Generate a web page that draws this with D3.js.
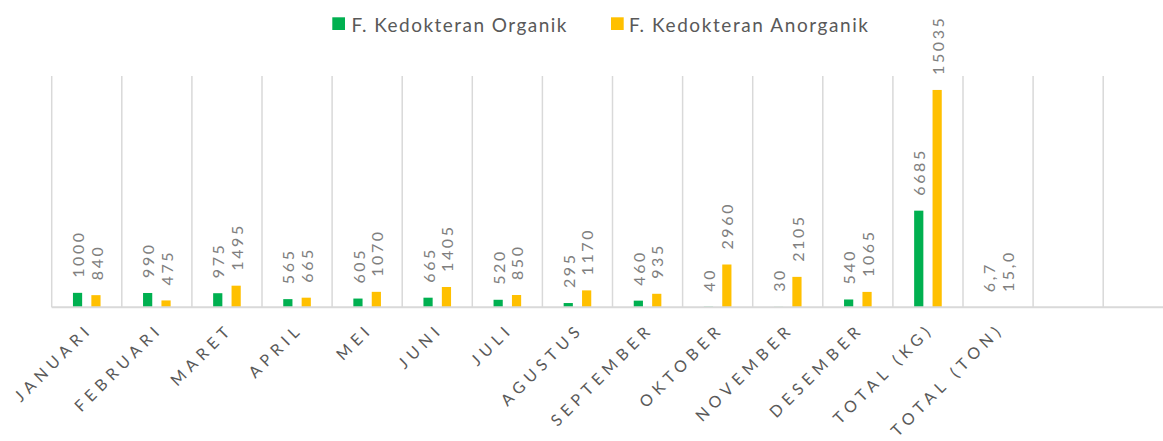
<!DOCTYPE html>
<html>
<head>
<meta charset="utf-8">
<script src="https://cdn.jsdelivr.net/npm/d3@7"></script>
<style>
  body { margin: 0; background: #fff; }
  svg { display: block; overflow: hidden; }
</style>
</head>
<body>
<script>
// data
const categories = ["JANUARI", "FEBRUARI", "MARET", "APRIL", "MEI", "JUNI", "JULI", "AGUSTUS",
  "SEPTEMBER", "OKTOBER", "NOVEMBER", "DESEMBER", "TOTAL (KG)", "TOTAL (TON)", "", " "];
const seriesNames = ["F. Kedokteran Organik", "F. Kedokteran Anorganik"];
const organik = [1000, 990, 975, 565, 605, 665, 520, 295, 460, 40, 30, 540, 6685, 6.7];
const anorganik = [840, 475, 1495, 665, 1070, 1405, 850, 1170, 935, 2960, 2105, 1065, 15035, 15.0];
const colors = ["#00b050", "#ffc000"];

const width = 1163, height = 441;
const x0 = 51.7, band = 70.1;
const baseY = 307.3, topY = 76;

const svg = d3.select("body").append("svg")
  .attr("width", width).attr("height", height);

const x = d3.scaleBand()
  .domain(categories)
  .range([x0, x0 + band * categories.length])
  .padding(0);

const xs = d3.scaleBand()
  .domain([0, 1])
  .range([band / 2 - 13.8, band / 2 + 13.8])
  .paddingInner(0.5);

const y = d3.scaleLinear().domain([0, 16000]).range([baseY, topY]);

// vertical gridlines at category boundaries
const grid = svg.append("g");
categories.forEach(c => {
  const gx = x(c);
  grid.append("line")
    .attr("x1", gx).attr("x2", gx)
    .attr("y1", topY).attr("y2", baseY)
    .attr("stroke", "#d9d9d9").attr("stroke-width", 1.5);
});

// bars
const rows = organik.map((v, i) => ({ cat: categories[i], vals: [organik[i], anorganik[i]] }));

const gBars = svg.append("g");
rows.forEach(r => {
  r.vals.forEach((v, s) => {
    gBars.append("rect")
      .attr("x", x(r.cat) + xs(s))
      .attr("y", y(v))
      .attr("width", xs.bandwidth())
      .attr("height", baseY - y(v))
      .attr("fill", colors[s]);
  });
});

// axis line
svg.append("line")
  .attr("x1", x0).attr("x2", width)
  .attr("y1", baseY).attr("y2", baseY)
  .attr("stroke", "#d9d9d9").attr("stroke-width", 2);

// data labels, rotated (ton values keep one decimal with a comma)
const fmt = (v, cat) => cat === "TOTAL (TON)" ? v.toFixed(1).replace(".", ",") : String(v);
const gLab = svg.append("g")
  .attr("font-family", "Lato, 'Open Sans', sans-serif")
  .attr("font-size", 16)
  .attr("letter-spacing", "2.6px")
  .attr("fill", "#7f7f7f");
rows.forEach(r => {
  r.vals.forEach((v, s) => {
    const cx = x(r.cat) + xs(s) + xs.bandwidth() / 2 + 1;
    const cy = y(v) - 15;
    gLab.append("text")
      .attr("transform", `translate(${cx},${cy}) rotate(-90)`)
      .attr("dy", "0.35em")
      .attr("text-anchor", "start")
      .text(fmt(v, r.cat));
  });
});

// category labels
const gCat = svg.append("g")
  .attr("font-family", "Lato, 'Open Sans', sans-serif")
  .attr("font-size", 16)
  .attr("letter-spacing", "5.2px")
  .attr("fill", "#595959");
categories.forEach(c => {
  if (!c.trim()) return;
  const cx = x(c) + band / 2 - 2;
  gCat.append("text")
    .attr("transform", `translate(${cx},${321}) rotate(-45)`)
    .attr("dominant-baseline", "hanging")
    .attr("text-anchor", "end")
    .text(c);
});

// legend
const legendItems = [
  { name: seriesNames[0], color: colors[0], sx: 332.3, tx: 351.5, len: 215 },
  { name: seriesNames[1], color: colors[1], sx: 611, tx: 629, len: 239 }
];
const gLeg = svg.append("g")
  .attr("font-family", "Lato, 'Open Sans', sans-serif")
  .attr("font-size", 19)
  .attr("fill", "#595959");
legendItems.forEach(d => {
  gLeg.append("rect")
    .attr("x", d.sx).attr("y", 17.3)
    .attr("width", 12.7).attr("height", 12.7)
    .attr("fill", d.color);
  gLeg.append("text")
    .attr("x", d.tx).attr("y", 31.5)
    .attr("textLength", d.len)
    .attr("lengthAdjust", "spacing")
    .text(d.name);
});
</script>
</body>
</html>
